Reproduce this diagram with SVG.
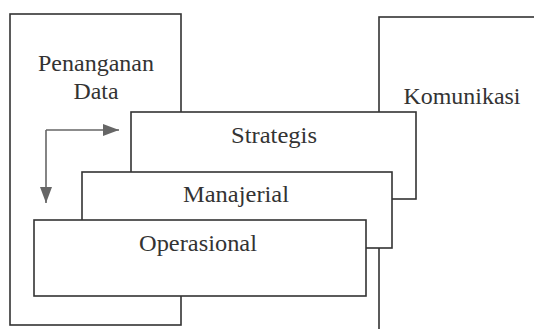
<svg xmlns="http://www.w3.org/2000/svg" width="534" height="329" viewBox="0 0 534 329">
<style>
.box{fill:#fff;stroke:#333;stroke-width:1.6}
.lbl{font-family:"Liberation Serif","Times New Roman",serif;font-size:22.5px;fill:#333;text-anchor:middle}
.con{fill:none;stroke:#666;stroke-width:1.6}
</style>
<defs>
<marker id="ah" viewBox="0 0 16 12" refX="16" refY="6" markerWidth="16" markerHeight="12" markerUnits="userSpaceOnUse" orient="auto">
<path d="M0,0 L16,6 L0,12 Z" fill="#666"/>
</marker>
</defs>
<rect width="534" height="329" fill="#fff"/>
<g id="penanganan">
<rect class="box" x="10" y="14" width="171" height="311"/>
<text class="lbl" x="96" y="71" textLength="116" lengthAdjust="spacingAndGlyphs">Penanganan</text>
<text class="lbl" x="96" y="99" textLength="45" lengthAdjust="spacingAndGlyphs">Data</text>
</g>
<g id="komunikasi">
<rect class="box" x="379" y="17" width="170" height="330"/>
<text class="lbl" x="462" y="104" textLength="117" lengthAdjust="spacingAndGlyphs">Komunikasi</text>
</g>
<g id="strategis">
<rect class="box" x="131" y="112" width="285" height="87"/>
<text class="lbl" x="274" y="143" textLength="86" lengthAdjust="spacingAndGlyphs">Strategis</text>
</g>
<g id="manajerial">
<rect class="box" x="82" y="172" width="310" height="76"/>
<text class="lbl" x="236" y="202" textLength="106" lengthAdjust="spacingAndGlyphs">Manajerial</text>
</g>
<g id="operasional">
<rect class="box" x="34" y="220" width="332" height="76"/>
<text class="lbl" x="198" y="251" textLength="118" lengthAdjust="spacingAndGlyphs">Operasional</text>
</g>
<g id="connectors">
<path class="con" d="M46,130 L119,130" marker-end="url(#ah)"/>
<path class="con" d="M46,130 L46,203" marker-end="url(#ah)"/>
</g>
</svg>
